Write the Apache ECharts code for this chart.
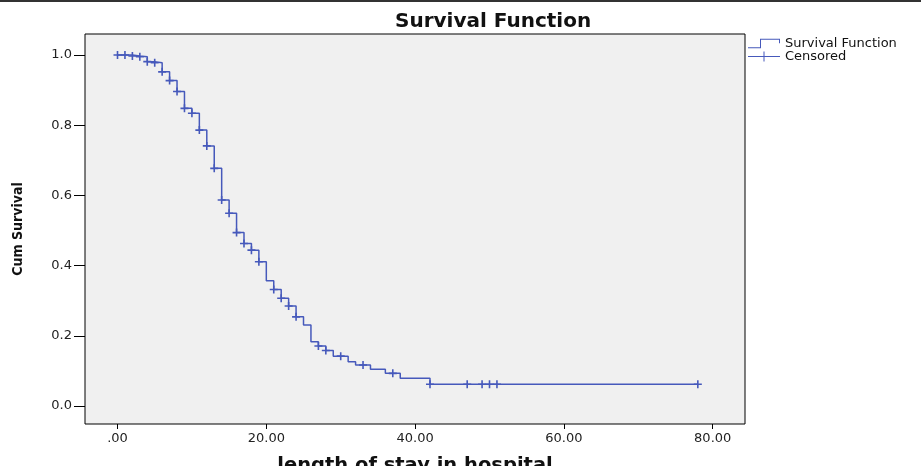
<!DOCTYPE html>
<html style="height: 100%">
   <head>
       <meta charset="utf-8">
   </head>
   <body style="height: 100%; margin: 0; background: #fff">
       <div id="container" style="height: 466px; width: 921px"></div>
       <script type="text/javascript" src="https://cdn.jsdelivr.net/npm/echarts/dist/echarts.min.js"></script>
       <script type="text/javascript">
// Kaplan-Meier steps: time at which level starts, and the level
var stepTimes = [0, 2, 3, 4, 5, 6, 7, 8, 9, 10, 11, 12, 13, 14, 15, 16, 17, 18, 19, 20,
                 21, 22, 23, 24, 25, 26, 27, 28, 29, 31, 32, 34, 36, 38, 42, 78];
var stepSurv  = [1.000, 0.997, 0.995, 0.981, 0.978, 0.952, 0.927, 0.896, 0.848, 0.834,
                 0.786, 0.741, 0.677, 0.587, 0.549, 0.494, 0.463, 0.444, 0.411, 0.357,
                 0.332, 0.307, 0.285, 0.254, 0.231, 0.183, 0.171, 0.158, 0.142, 0.126,
                 0.117, 0.105, 0.093, 0.079, 0.062, 0.062];
// censored cases (time)
var censorTimes = [0, 1, 2, 3, 4, 5, 6, 7, 8, 9, 10, 11, 12, 13, 14, 15, 16, 17, 18, 19,
                   21, 22, 23, 24, 27, 28, 30, 33, 37, 42, 47, 49, 50, 51, 78];
var xTicks = [0, 20, 40, 60, 80];
var yTicks = [0, 0.2, 0.4, 0.6, 0.8, 1.0];

var BLUE = '#4659bb';

// level of the curve at time t (censored marks sit on the curve)
function survAt(t) {
    var s = stepSurv[0];
    for (var i = 0; i < stepTimes.length; i++) {
        if (stepTimes[i] <= t) s = stepSurv[i];
    }
    return s;
}

var lineData = stepTimes.map(function (t, i) { return [t, stepSurv[i]]; });
var censorData = censorTimes.map(function (t) { return [t, survAt(t)]; });

var plusSymbol = 'path://M0,3.2H8V4.8H0Z M3.2,0H4.8V8H3.2Z';
var stepIcon = 'path://M0,8.5H12V0H32V4.5H31V1H13V9.5H0Z';
var censIcon = 'path://M0,4.5H32V5.5H0Z M15.5,0H16.5V10H15.5Z';

var dom = document.getElementById("container");
var myChart = echarts.init(dom);
var option = {
    animation: false,
    backgroundColor: '#fff',
    title: {
        text: 'Survival Function',
        left: 395,
        top: 12,
        padding: 0,
        textStyle: {
            fontFamily: 'DejaVu Sans',
            fontWeight: 'bold',
            fontSize: 20,
            color: '#111'
        }
    },
    graphic: [{
        type: 'rect',
        left: 0,
        top: 0,
        shape: {width: 921, height: 2},
        style: {fill: '#333'}
    }],
    legend: {
        orient: 'vertical',
        left: 748,
        top: 37,
        padding: 0,
        itemWidth: 32,
        itemHeight: 10,
        itemGap: 0,
        textStyle: {
            fontFamily: 'DejaVu Sans',
            fontSize: 13,
            lineHeight: 12,
            color: '#111'
        },
        data: [
            {name: 'Survival Function', icon: stepIcon, itemStyle: {color: BLUE, borderWidth: 0}},
            {name: 'Censored', icon: censIcon, itemStyle: {color: BLUE, borderWidth: 0}}
        ]
    },
    grid: {
        show: true,
        left: 85,
        right: 176,
        top: 34,
        bottom: 42,
        containLabel: false,
        outerBoundsMode: 'none',
        backgroundColor: '#f0f0f0',
        borderColor: '#000',
        borderWidth: 1
    },
    xAxis: {
        type: 'value',
        min: -4.37,
        max: 84.34,
        name: 'length of stay in hospital',
        nameLocation: 'middle',
        nameGap: 32,
        nameTextStyle: {
            fontFamily: 'DejaVu Sans',
            fontWeight: 'bold',
            fontSize: 19.5,
            color: '#111'
        },
        axisLine: {show: false, onZero: false},
        splitLine: {show: false},
        axisTick: {
            show: true,
            customValues: xTicks,
            length: 5,
            lineStyle: {color: '#000'}
        },
        axisLabel: {
            customValues: xTicks,
            margin: 8,
            fontFamily: 'DejaVu Sans',
            fontSize: 13,
            color: '#222',
            formatter: function (v) { return v === 0 ? '.00' : v.toFixed(2); }
        }
    },
    yAxis: {
        type: 'value',
        min: -0.0513,
        max: 1.0598,
        name: 'Cum Survival',
        nameLocation: 'middle',
        nameRotate: 90,
        nameGap: 60,
        nameTextStyle: {
            fontFamily: "'Liberation Sans Narrow', 'DejaVu Sans Condensed'",
            fontWeight: 'bold',
            fontSize: 14,
            color: '#111'
        },
        axisLine: {show: false, onZero: false},
        splitLine: {show: false},
        axisTick: {
            show: true,
            customValues: yTicks,
            length: 11,
            lineStyle: {color: '#000'}
        },
        axisLabel: {
            customValues: yTicks,
            margin: 13,
            fontFamily: 'DejaVu Sans',
            fontSize: 13,
            color: '#222',
            formatter: function (v) { return v.toFixed(1); }
        }
    },
    series: [
        {
            name: 'Survival Function',
            type: 'line',
            step: 'end',
            symbol: 'none',
            data: lineData,
            lineStyle: {color: BLUE, width: 1.5},
            itemStyle: {color: BLUE}
        },
        {
            name: 'Censored',
            type: 'scatter',
            symbol: plusSymbol,
            symbolSize: 8,
            data: censorData,
            itemStyle: {color: BLUE, opacity: 1}
        }
    ]
};

if (option && typeof option === "object") {
    myChart.setOption(option, true);
}
       </script>
   </body>
</html>
